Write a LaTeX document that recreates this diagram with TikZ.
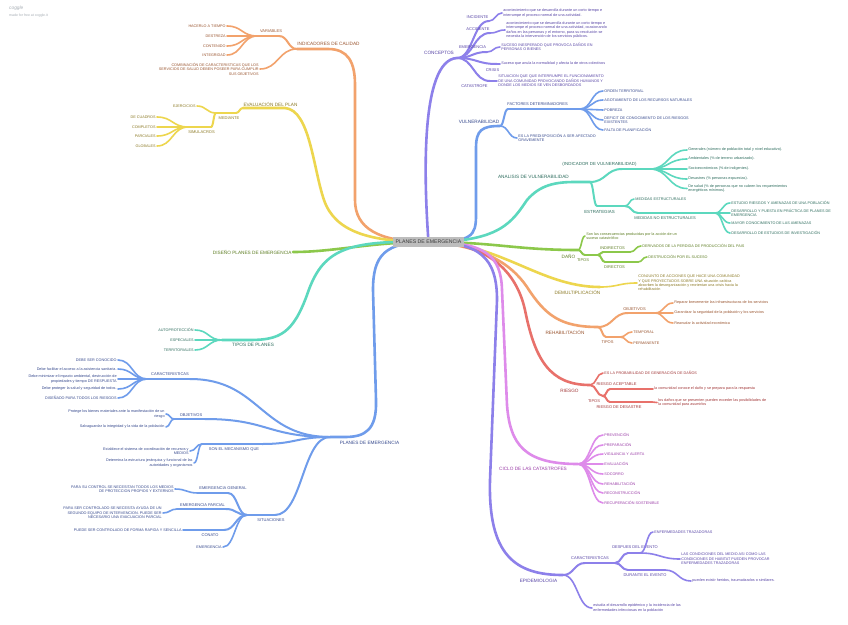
\documentclass[tikz,border=0pt]{standalone}
\usepackage{fontspec}
\setmainfont{Liberation Sans}
\usetikzlibrary{calc}
\definecolor{lOr}{HTML}{F2A26C}
\definecolor{tOr}{HTML}{9A5530}
\definecolor{lYe}{HTML}{EDD64E}
\definecolor{tYe}{HTML}{8C7A25}
\definecolor{lGr}{HTML}{8CC84B}
\definecolor{tGr}{HTML}{5F7F25}
\definecolor{lTe}{HTML}{5CD8BE}
\definecolor{tTe}{HTML}{2F6E5F}
\definecolor{lBl}{HTML}{6F9CEB}
\definecolor{tBl}{HTML}{374A8E}
\definecolor{lPu}{HTML}{8D80EA}
\definecolor{tPu}{HTML}{5744A6}
\definecolor{lRe}{HTML}{E8716B}
\definecolor{tRe}{HTML}{A3393A}
\definecolor{lPk}{HTML}{DE8BEA}
\definecolor{tPk}{HTML}{9B3DA8}
\definecolor{rootfill}{HTML}{BDBDBD}
\definecolor{rootText}{HTML}{3A3A3A}
\definecolor{logoGray}{HTML}{A7AEB5}
\tikzset{
  w1/.style={line width=2.6pt,line cap=round},
  w2/.style={line width=2pt,line cap=round},
  w3/.style={line width=1.6pt,line cap=round},
  lab1/.style={inner sep=0pt,font=\fontsize{4.7}{5.3}\selectfont},
  lab2/.style={inner sep=0pt,font=\fontsize{4}{4.6}\selectfont},
  leaf/.style={inner sep=1.2pt,font=\fontsize{3.75}{4.45}\selectfont},
  leafR/.style={leaf,anchor=west,align=left},
  leafL/.style={leaf,anchor=east,align=right},
  cOr/.style={draw=lOr}, xOr/.style={text=tOr},
  cYe/.style={draw=lYe}, xYe/.style={text=tYe},
  cGr/.style={draw=lGr}, xGr/.style={text=tGr},
  cTe/.style={draw=lTe}, xTe/.style={text=tTe},
  cBl/.style={draw=lBl}, xBl/.style={text=tBl},
  cPu/.style={draw=lPu}, xPu/.style={text=tPu},
  cRe/.style={draw=lRe}, xRe/.style={text=tRe},
  cPk/.style={draw=lPk}, xPk/.style={text=tPk},
  rootbox/.style={fill=rootfill,text=rootText,minimum width=71pt,minimum height=10pt,inner sep=0pt,font=\fontsize{5.2}{6}\selectfont},
}
\newcommand\brcurve[3][]{\draw[#1] let \p1=(#2),\p2=(#3) in (\p1) .. controls ({(\x1+\x2)/2},\y1) and ({(\x1+\x2)/2},\y2) .. (\p2);}
\begin{document}
\begin{tikzpicture}[x=1pt,y=-1pt]
\useasboundingbox (0,0) rectangle (848,624);
\fill[white] (0,0) rectangle (848,624);
\coordinate (C) at (428.5,242);

% header
\node[anchor=west,inner sep=0pt,text=logoGray,font=\fontsize{4.8}{5}\selectfont\itshape] (logo) at (9,8) {coggle};
\node[anchor=west,inner sep=0pt,text=logoGray,font=\fontsize{3.5}{4}\selectfont] (made) at (9,16) {made for free at coggle.it};

% ================= INDICADORES DE CALIDAD
\coordinate (sIND) at (328,49); \coordinate (jIND) at (297,49);
\draw[cOr,w1] (C) .. controls (378,242) and (355,228) .. (355,200) -- (355,85) .. controls (355,62) and (348,49) .. (sIND) -- (jIND);
\node[lab1,xOr] (tIND) at (328.5,44) {INDICADORES DE CALIDAD};
\coordinate (sVAR) at (279,36); \coordinate (jVAR) at (257,36);
\node[lab2,xOr] (tVAR) at (271,31) {VARIABLES};
\brcurve[cOr,w2]{jIND}{sVAR}
\draw[cOr,w2] (sVAR) -- (jVAR);
\node[leafL,xOr] (nHAC) at (227,26) {HACERLO A TIEMPO};
\node[leafL,xOr] (nDES) at (227,36) {DESTREZA};
\node[leafL,xOr] (nCNT) at (227,46) {CONTENIDO};
\node[leafL,xOr] (nINT) at (227,55) {INTEGRIDAD};
\brcurve[cOr,w3]{jVAR}{nHAC.east}
\brcurve[cOr,w3]{jVAR}{nDES.east}
\brcurve[cOr,w3]{jVAR}{nCNT.east}
\brcurve[cOr,w3]{jVAR}{nINT.east}
\node[leafL,xOr] (nCOM) at (260,69) {COMBINACIÓN DE CARACTERISTICAS QUE LOS\\SERVICIOS DE SALUD DEBEN POSEER PARA CUMPLIR\\SUS OBJETIVOS};
\brcurve[cOr,w3]{jIND}{nCOM.east}

% ================= EVALUACION DEL PLAN
\coordinate (sEVA) at (285,108); \coordinate (jEVA) at (243,108);
\draw[cYe,w1] (C) .. controls (370,242) and (335,232) .. (324,200) .. controls (313,168) and (310,110) .. (sEVA) -- (jEVA);
\node[lab1,xYe] (tEVA) at (270.5,104) {EVALUACIÓN DEL PLAN};
\coordinate (sMED) at (236,113); \coordinate (jMED) at (216,113);
\node[lab2,xYe] (tMED) at (229,118) {MEDIANTE};
\brcurve[cYe,w2]{jEVA}{sMED}
\draw[cYe,w2] (sMED) -- (jMED);
\node[leafL,xYe] (nEJE) at (197,106) {EJERCICIOS};
\brcurve[cYe,w3]{jMED}{nEJE.east}
\coordinate (sSIM) at (211,127); \coordinate (jSIM) at (188,127);
\node[lab2,xYe] (tSIM) at (201.5,132) {SIMULACROS};
\brcurve[cYe,w2]{jMED}{sSIM}
\draw[cYe,w2] (sSIM) -- (jSIM);
\node[leafL,xYe] (nCUA) at (157,117) {DE CUADROS};
\node[leafL,xYe] (nCOMP) at (157,127) {COMPLETOS};
\node[leafL,xYe] (nPAR) at (157,136) {PARCIALES};
\node[leafL,xYe] (nGLO) at (157,146) {GLOBALES};
\brcurve[cYe,w3]{jSIM}{nCUA.east}
\brcurve[cYe,w3]{jSIM}{nCOMP.east}
\brcurve[cYe,w3]{jSIM}{nPAR.east}
\brcurve[cYe,w3]{jSIM}{nGLO.east}

% ================= DISENO PLANES DE EMERGENCIA
\node[lab1,xGr,anchor=east,inner sep=1.2pt] (nDIS) at (293,252) {DISEÑO PLANES DE EMERGENCIA};
\draw[cGr,w1] (C) .. controls (370,242) and (335,252) .. (nDIS.east);

% ================= TIPOS DE PLANES
\coordinate (sTIP) at (250,340); \coordinate (jTIP) at (222,340);
\draw[cTe,w1] (C) .. controls (345,240) and (322,250) .. (307,295) .. controls (293,333) and (280,340) .. (sTIP) -- (jTIP);
\node[lab1,xTe] (tTIP) at (253,345) {TIPOS DE PLANES};
\node[leafL,xTe] (nAUT) at (195,330) {AUTOPROTECCIÓN};
\node[leafL,xTe] (nESP) at (195,340) {ESPECIALES};
\node[leafL,xTe] (nTER) at (195,350) {TERRITORIALES};
\brcurve[cTe,w3]{jTIP}{nAUT.east}
\brcurve[cTe,w3]{jTIP}{nESP.east}
\brcurve[cTe,w3]{jTIP}{nTER.east}

% ================= PLANES DE EMERGENCIA (left)
\coordinate (sPDE) at (345,437); \coordinate (jPDE) at (330,437);
\draw[cBl,w1] (C) .. controls (385,242) and (373,255) .. (373,290) -- (376,400) .. controls (377,430) and (365,437) .. (sPDE) -- (jPDE);
\node[lab1,xBl] (tPDE) at (369.5,443) {PLANES DE EMERGENCIA};
% caracteristicas
\coordinate (sCAR) at (190,379); \coordinate (jCAR) at (147,379);
\node[lab2,xBl] (tCAR) at (170,374) {CARACTERISTICAS};
\brcurve[cBl,w2]{jPDE}{sCAR}
\draw[cBl,w2] (sCAR) -- (jCAR);
\node[leafL,xBl] (nC1) at (118,360) {DEBE SER CONOCIDO};
\node[leafL,xBl] (nC2) at (118,369) {Debe facilitar el acceso a la asistencia sanitaria.};
\node[leafL,xBl] (nC3) at (118,379) {Debe minimizar el impacto ambiental, destrucción de\\propiedades y tiempo DE RESPUESTA};
\node[leafL,xBl] (nC4) at (118,389) {Debe proteger la salud y seguridad de todos.};
\node[leafL,xBl] (nC5) at (118,398) {DISEÑADO PARA TODOS LOS RIESGOS};
\brcurve[cBl,w3]{jCAR}{nC1.east}
\brcurve[cBl,w3]{jCAR}{nC2.east}
\brcurve[cBl,w3]{jCAR}{nC3.east}
\brcurve[cBl,w3]{jCAR}{nC4.east}
\brcurve[cBl,w3]{jCAR}{nC5.east}
% objetivos
\coordinate (sOBJ) at (205,419); \coordinate (jOBJ) at (174,419);
\node[lab2,xBl] (tOBJ) at (191,415) {OBJETIVOS};
\brcurve[cBl,w2]{jPDE}{sOBJ}
\draw[cBl,w2] (sOBJ) -- (jOBJ);
\node[leafL,xBl] (nO1) at (166,414) {Protege los bienes materiales ante la manifestación de un\\riesgo};
\node[leafL,xBl] (nO2) at (166,427) {Salvaguardar la integridad y la vida de la población};
\brcurve[cBl,w3]{jOBJ}{nO1.east}
\brcurve[cBl,w3]{jOBJ}{nO2.east}
% son el mecanismo que
\coordinate (sSON) at (262,444); \coordinate (jSON) at (202,444);
\node[lab2,xBl] (tSON) at (234,449) {SON EL MECANISMO QUE};
\brcurve[cBl,w2]{jPDE}{sSON}
\draw[cBl,w2] (sSON) -- (jSON);
\node[leafL,xBl] (nS1) at (190,451) {Establece el sistema de coordinación de recursos y\\MEDIOS};
\node[leafL,xBl] (nS2) at (194,463) {Determina la estructura jerárquica y funcional de las\\autoridades y organismos};
\brcurve[cBl,w3]{jSON}{nS1.east}
\brcurve[cBl,w3]{jSON}{nS2.east}
% situaciones
\coordinate (sSIT) at (275,515); \coordinate (jSIT) at (247,515);
\node[lab2,xBl] (tSIT) at (271,520) {SITUACIONES};
\brcurve[cBl,w2]{jPDE}{sSIT}
\draw[cBl,w2] (sSIT) -- (jSIT);
\coordinate (sEMG) at (228,493); \coordinate (jEMG) at (198,493);
\node[lab2,xBl] (tEMG) at (223,488) {EMERGENCIA GENERAL};
\brcurve[cBl,w2]{jSIT}{sEMG}
\draw[cBl,w2] (sEMG) -- (jEMG);
\node[leafL,xBl] (nEG) at (175,489) {PARA SU CONTROL SE NECESITAN TODOS LOS MEDIOS\\DE PROTECCION PROPIOS Y EXTERNOS};
\brcurve[cBl,w3]{jEMG}{nEG.east}
\coordinate (sEMP) at (226,509); \coordinate (jEMP) at (177,509);
\node[lab2,xBl] (tEMP) at (202.5,505) {EMERGENCIA PARCIAL};
\brcurve[cBl,w2]{jSIT}{sEMP}
\draw[cBl,w2] (sEMP) -- (jEMP);
\node[leafL,xBl] (nEP) at (163,513) {PARA SER CONTROLADO SE NECESITA AYUDA DE UN\\SEGUNDO EQUIPO DE INTERVENCION. PUEDE SER\\NECESARIO UNA EVACUACION PARCIAL};
\brcurve[cBl,w3]{jEMP}{nEP.east}
\coordinate (sCNA) at (224,530); \coordinate (jCNA) at (200,530);
\node[lab2,xBl] (tCNA) at (210,535) {CONATO};
\brcurve[cBl,w2]{jSIT}{sCNA}
\draw[cBl,w2] (sCNA) -- (jCNA);
\node[leafL,xBl] (nCN) at (183,530) {PUEDE SER CONTROLADO DE FORMA RAPIDA Y SENCILLA};
\brcurve[cBl,w3]{jCNA}{nCN.east}
\node[leafL,xBl] (nEMR) at (223,547) {EMERGENCIA};
\brcurve[cBl,w3]{jSIT}{nEMR.east}

% ================= CONCEPTOS
\coordinate (jCPT) at (457,58);
\draw[cPu,w1] (C) .. controls (424,180) and (420,60) .. (jCPT);
\node[lab1,xPu] (tCPT) at (439,53) {CONCEPTOS};
\coordinate (jINC) at (489,21);
\node[lab2,xPu] (tINC) at (477.5,17) {INCIDENTE};
\brcurve[cPu,w2]{jCPT}{jINC}
\node[leafR,xPu] (nINC) at (502,13) {acontecimiento que se desarrolla durante un corto tiempo e\\interrumpe el proceso normal de una actividad.};
\brcurve[cPu,w3]{jINC}{nINC.west}
\coordinate (jACC) at (490,33);
\node[lab2,xPu] (tACC) at (478,29) {ACCIDENTE};
\brcurve[cPu,w2]{jCPT}{jACC}
\node[leafR,xPu] (nACC) at (505,30) {acontecimiento que se desarrolla durante un corto tiempo e\\interrumpe el proceso normal de una actividad, ocasionando\\daños en las personas y el entorno, para su resolución se\\necesita la intervención de los servicios públicos.};
\brcurve[cPu,w3]{jACC}{nACC.west}
\coordinate (jEME) at (487,52);
\node[lab2,xPu] (tEME) at (472.5,47) {EMERGENCIA};
\brcurve[cPu,w2]{jCPT}{jEME}
\node[leafR,xPu] (nEME) at (500,47) {SUCESO INESPERADO QUE PROVOCA DAÑOS EN\\PERSONAS O BIENES};
\brcurve[cPu,w3]{jEME}{nEME.west}
\coordinate (jCRI) at (497,64);
\node[lab2,xPu] (tCRI) at (492.5,70) {CRISIS};
\brcurve[cPu,w2]{jCPT}{jCRI}
\node[leafR,xPu] (nCRI) at (500,64) {Suceso que anula la normalidad y afecta la de otros colectivos};
\brcurve[cPu,w3]{jCRI}{nCRI.west}
\coordinate (jCAT) at (490,81);
\node[lab2,xPu] (tCAT) at (474.5,86) {CATASTROFE};
\brcurve[cPu,w2]{jCPT}{jCAT}
\node[leafR,xPu] (nCAT) at (497,81) {SITUACION QUE QUE INTERRUMPE EL FUNCIONAMIENTO\\DE UNA COMUNIDAD PROVOCANDO DAÑOS HUMANOS Y\\DONDE LOS MEDIOS SE VEN DESBORDADOS};
\brcurve[cPu,w3]{jCAT}{nCAT.west}

% ================= VULNERABILIDAD
\coordinate (jVUL) at (500,126);
\draw[cBl,w1] (C) .. controls (472,242) and (476,236) .. (476,215) -- (476,148) .. controls (476,130) and (482,126) .. (jVUL);
\node[lab1,xBl] (tVUL) at (479,122) {VULNERABILIDAD};
\coordinate (sFAC) at (508,109); \coordinate (jFAC) at (580,109);
\node[lab2,xBl] (tFAC) at (537.5,104.5) {FACTORES DETERMINADORES};
\brcurve[cBl,w2]{jVUL}{sFAC}
\draw[cBl,w2] (sFAC) -- (jFAC);
\node[leafR,xBl] (nF1) at (603,91) {ORDEN TERRITORIAL};
\node[leafR,xBl] (nF2) at (603,100) {AGOTAMIENTO DE LOS RECURSOS NATURALES};
\node[leafR,xBl] (nF3) at (603,110) {POBREZA};
\node[leafR,xBl] (nF4) at (603,120) {DEFICIT DE CONOCIMIENTO DE LOS RIESGOS\\EXISTENTES};
\node[leafR,xBl] (nF5) at (603,130) {FALTA DE PLANIFICACIÓN};
\brcurve[cBl,w3]{jFAC}{nF1.west}
\brcurve[cBl,w3]{jFAC}{nF2.west}
\brcurve[cBl,w3]{jFAC}{nF3.west}
\brcurve[cBl,w3]{jFAC}{nF4.west}
\brcurve[cBl,w3]{jFAC}{nF5.west}
\node[leafR,xBl] (nPRE) at (517,138) {ES LA PREDISPOSICIÓN A SER AFECTADO\\GRAVEMENTE};
\brcurve[cBl,w3]{jVUL}{nPRE.west}

% ================= ANALISIS DE VULNERABILIDAD
\coordinate (jANA) at (590,182);
\draw[cTe,w1] (C) .. controls (500,242) and (512,222) .. (527,200) .. controls (540,185) and (555,182) .. (575,182) -- (jANA);
\node[lab1,xTe] (tANA) at (533.5,177) {ANALISIS DE VULNERABILIDAD};
\coordinate (sIDV) at (622,169); \coordinate (jIDV) at (650,169);
\node[lab2,xTe,font=\fontsize{4.4}{5}\selectfont] (tIDV) at (599.5,164) {(INDICADOR DE VULNERABILIDAD)};
\brcurve[cTe,w2]{jANA}{sIDV}
\draw[cTe,w2] (sIDV) -- (jIDV);
\node[leafR,xTe] (nI1) at (687,150) {Generales (número de población total y nivel educativo).};
\node[leafR,xTe] (nI2) at (687,159) {Ambientales (\% de terreno urbanizado).};
\node[leafR,xTe] (nI3) at (687,169) {Socioeconómicos (\% de indigentes).};
\node[leafR,xTe] (nI4) at (687,179) {Desastres (\% personas expuestas).};
\node[leafR,xTe] (nI5) at (687,188.5) {De salud (\% de personas que no cubren los requerimientos\\energéticos mínimos).};
\brcurve[cTe,w3]{jIDV}{nI1.west}
\brcurve[cTe,w3]{jIDV}{nI2.west}
\brcurve[cTe,w3]{jIDV}{nI3.west}
\brcurve[cTe,w3]{jIDV}{nI4.west}
\brcurve[cTe,w3]{jIDV}{nI5.west}
\coordinate (sEST) at (597,206); \coordinate (jEST) at (625,206);
\node[lab2,xTe,font=\fontsize{4.4}{5}\selectfont] (tEST) at (599.5,212) {ESTRATEGIAS};
\brcurve[cTe,w2]{jANA}{sEST}
\draw[cTe,w2] (sEST) -- (jEST);
\node[leafR,xTe] (nME) at (634,199) {MEDIDAS ESTRUCTURALES};
\brcurve[cTe,w3]{jEST}{nME.west}
\coordinate (sMNE) at (638,213); \coordinate (jMNE) at (715,213);
\node[lab2,xTe] (tMNE) at (665,218) {MEDIDAS NO ESTRUCTURALES};
\brcurve[cTe,w2]{jEST}{sMNE}
\draw[cTe,w2] (sMNE) -- (jMNE);
\node[leafR,xTe] (nM1) at (730,203) {ESTUDIO RIESGOS Y AMENAZAS DE UNA POBLACIÓN};
\node[leafR,xTe] (nM2) at (730,213) {DESARROLLO Y PUESTA EN PRÁCTICA DE PLANES DE\\EMERGENCIA};
\node[leafR,xTe] (nM3) at (730,223) {MAYOR CONOCIMIENTO DE LAS AMENAZAS};
\node[leafR,xTe] (nM4) at (730,233) {DESARROLLO DE ESTUDIOS DE INVESTIGACIÓN};
\brcurve[cTe,w3]{jMNE}{nM1.west}
\brcurve[cTe,w3]{jMNE}{nM2.west}
\brcurve[cTe,w3]{jMNE}{nM3.west}
\brcurve[cTe,w3]{jMNE}{nM4.west}

% ================= DANO
\coordinate (jDAN) at (578,250);
\draw[cGr,w1] (C) .. controls (495,242) and (515,250) .. (jDAN);
\node[lab1,xGr] (tDAN) at (568.5,256) {DAÑO};
\node[leafR,xGr] (nSON) at (585,236) {Son las consecuencias producidas por la acción de un\\suceso catastrófico};
\brcurve[cGr,w3]{jDAN}{nSON.west}
\coordinate (sTD) at (585,255); \coordinate (jTD) at (598,255);
\node[lab2,xGr] (tTD) at (583,260) {TIPOS};
\brcurve[cGr,w2]{jDAN}{sTD}
\draw[cGr,w2] (sTD) -- (jTD);
\coordinate (sIDR) at (603,252); \coordinate (jIDR) at (630,252);
\node[lab2,xGr] (tIDR) at (612.5,248) {INDIRECTOS};
\brcurve[cGr,w2]{jTD}{sIDR}
\draw[cGr,w2] (sIDR) -- (jIDR);
\node[leafR,xGr] (nDER) at (641,246) {DERIVADOS DE LA PERDIDA DE PRODUCCIÓN DEL PAIS};
\brcurve[cGr,w3]{jIDR}{nDER.west}
\coordinate (sDIR) at (605,262); \coordinate (jDIR) at (638,262);
\node[lab2,xGr] (tDIR) at (614.5,267) {DIRECTOS};
\brcurve[cGr,w2]{jTD}{sDIR}
\draw[cGr,w2] (sDIR) -- (jDIR);
\node[leafR,xGr] (nDST) at (647,257) {DESTRUCCIÓN POR EL SUCESO};
\brcurve[cGr,w3]{jDIR}{nDST.west}

% ================= DEMULTIPLICACION
\coordinate (jDEM) at (600,287);
\draw[cYe,w1] (C) .. controls (500,242) and (540,287) .. (jDEM);
\node[lab1,xYe] (tDEM) at (577.5,292) {DEMULTIPLICACIÓN};
\node[leafR,xYe] (nDEM) at (637,283) {CONJUNTO DE ACCIONES QUE HACE UNA COMUNIDAD\\Y QUE PROYECTADOS SOBRE UNA situación caótica\\absorben la desorganización y reorientan una crisis hacia la\\rehabilitación};
\brcurve[cYe,w3]{jDEM}{nDEM.west}

% ================= REHABILITACION
\coordinate (jREH) at (598,327);
\draw[cOr,w1] (C) .. controls (480,245) and (510,262) .. (527,287) .. controls (545,315) and (560,327) .. (jREH);
\node[lab1,xOr] (tREH) at (565,332) {REHABILITACIÓN};
\coordinate (sOB2) at (628,313); \coordinate (jOB2) at (655,313);
\node[lab2,xOr] (tOB2) at (634.5,309) {OBJETIVOS};
\brcurve[cOr,w2]{jREH}{sOB2}
\draw[cOr,w2] (sOB2) -- (jOB2);
\node[leafR,xOr] (nR1) at (673,303) {Reparar brevemente las infraestructuras de los servicios};
\node[leafR,xOr] (nR2) at (673,313) {Garantizar la seguridad de la población y los servicios};
\node[leafR,xOr] (nR3) at (673,323) {Reanudar la actividad económica};
\brcurve[cOr,w3]{jOB2}{nR1.west}
\brcurve[cOr,w3]{jOB2}{nR2.west}
\brcurve[cOr,w3]{jOB2}{nR3.west}
\coordinate (sTR) at (606,337); \coordinate (jTR) at (620,337);
\node[lab2,xOr] (tTR) at (607.5,342) {TIPOS};
\brcurve[cOr,w2]{jREH}{sTR}
\draw[cOr,w2] (sTR) -- (jTR);
\node[leafR,xOr] (nTEM) at (632,332) {TEMPORAL};
\node[leafR,xOr] (nPER) at (632,343) {PERMANENTE};
\brcurve[cOr,w3]{jTR}{nTEM.west}
\brcurve[cOr,w3]{jTR}{nPER.west}

% ================= RIESGO
\coordinate (jRIE) at (590,385);
\draw[cRe,w1] (C) .. controls (480,242) and (515,265) .. (525,310) .. controls (535,360) and (550,385) .. (jRIE);
\node[lab1,xRe] (tRIE) at (569.5,391) {RIESGO};
\node[leafR,xRe] (nPRO) at (603,373) {ES LA PROBABILIDAD DE GENERACIÓN DE DAÑOS};
\brcurve[cRe,w3]{jRIE}{nPRO.west}
\coordinate (jTRI) at (603,396);
\node[lab2,xRe] (tTRI) at (594,401) {TIPOS};
\brcurve[cRe,w2]{jRIE}{jTRI}
\coordinate (sRA) at (610,389); \coordinate (jRA) at (650,389);
\node[lab2,xRe] (tRA) at (616.5,384) {RIESGO ACEPTABLE};
\brcurve[cRe,w2]{jTRI}{sRA}
\draw[cRe,w2] (sRA) -- (jRA);
\node[leafR,xRe] (nRA) at (653,389) {la comunidad conoce el daño y se prepara para la respuesta};
\brcurve[cRe,w3]{jRA}{nRA.west}
\coordinate (sRD) at (610,402); \coordinate (jRD) at (652,402);
\node[lab2,xRe] (tRD) at (619,407) {RIESGO DE DESASTRE};
\brcurve[cRe,w2]{jTRI}{sRD}
\draw[cRe,w2] (sRD) -- (jRD);
\node[leafR,xRe] (nRD) at (657,402.5) {los daños que se presenten pueden exceder las posibilidades de\\la comunidad para asumirlos};
\brcurve[cRe,w3]{jRD}{nRD.west}

% ================= CICLO DE LAS CATASTROFES
\coordinate (jCIC) at (578,464);
\draw[cPk,w1] (C) .. controls (485,242) and (501,255) .. (502,290) -- (507,405) .. controls (510,445) and (525,464) .. (jCIC);
\node[lab1,xPk] (tCIC) at (533,469) {CICLO DE LAS CATASTROFES};
\node[leafR,xPk] (nK1) at (603,435) {PREVENCIÓN};
\node[leafR,xPk] (nK2) at (603,445) {PREPARACIÓN};
\node[leafR,xPk] (nK3) at (603,454) {VIGILANCIA Y ALERTA};
\node[leafR,xPk] (nK4) at (603,464) {EVALUACIÓN};
\node[leafR,xPk] (nK5) at (603,474) {SOCORRO};
\node[leafR,xPk] (nK6) at (603,484) {REHABILITACIÓN};
\node[leafR,xPk] (nK7) at (603,493) {RECONSTRUCCIÓN};
\node[leafR,xPk] (nK8) at (603,503) {RECUPERACIÓN SOSTENIBLE};
\foreach \k in {1,...,8}{\brcurve[cPk,w3]{jCIC}{nK\k.west}}

% ================= EPIDEMIOLOGIA
\coordinate (jEPI) at (563,575);
\draw[cPu,w1] (C) .. controls (480,242) and (497,258) .. (497,300) -- (490,480) .. controls (488,555) and (515,575) .. (jEPI);
\node[lab1,xPu] (tEPI) at (538.5,581) {EPIDEMIOLOGIA};
\coordinate (sCE) at (585,563); \coordinate (jCE) at (615,563);
\node[lab2,xPu] (tCE) at (590,558) {CARACTERISTICAS};
\brcurve[cPu,w2]{jEPI}{sCE}
\draw[cPu,w2] (sCE) -- (jCE);
\coordinate (sDE) at (628,553); \coordinate (jDE) at (640,553);
\node[lab2,xPu] (tDE) at (635,547) {DESPUES DEL EVENTO};
\brcurve[cPu,w2]{jCE}{sDE}
\draw[cPu,w2] (sDE) -- (jDE);
\node[leafR,xPu] (nET) at (653,532) {ENFERMEDADES TRAZADORAS};
\node[leafR,xPu] (nLC) at (680,559) {LAS CONDICIONES DEL MEDIO ASI COMO LAS\\CONDICIONES DE HABITAT PUEDEN PROVOCAR\\ENFERMEDADES TRAZADORAS};
\brcurve[cPu,w3]{jDE}{nET.west}
\brcurve[cPu,w3]{jDE}{nLC.west}
\coordinate (sDU) at (628,570); \coordinate (jDU) at (665,570);
\node[lab2,xPu] (tDU) at (645,575) {DURANTE EL EVENTO};
\brcurve[cPu,w2]{jCE}{sDU}
\draw[cPu,w2] (sDU) -- (jDU);
\node[leafR,xPu] (nHER) at (691,581) {pueden existir heridos, traumatizados o similares.};
\brcurve[cPu,w3]{jDU}{nHER.west}
\node[leafR,xPu] (nEST) at (592,608) {estudia el desarrollo epidémico y la incidencia de las\\enfermedades infecciosas en la población};
\brcurve[cPu,w3]{jEPI}{nEST.west}

% ================= ROOT
\node[rootbox] (root) at (C) {PLANES DE EMERGENCIA};
\end{tikzpicture}
\end{document}
